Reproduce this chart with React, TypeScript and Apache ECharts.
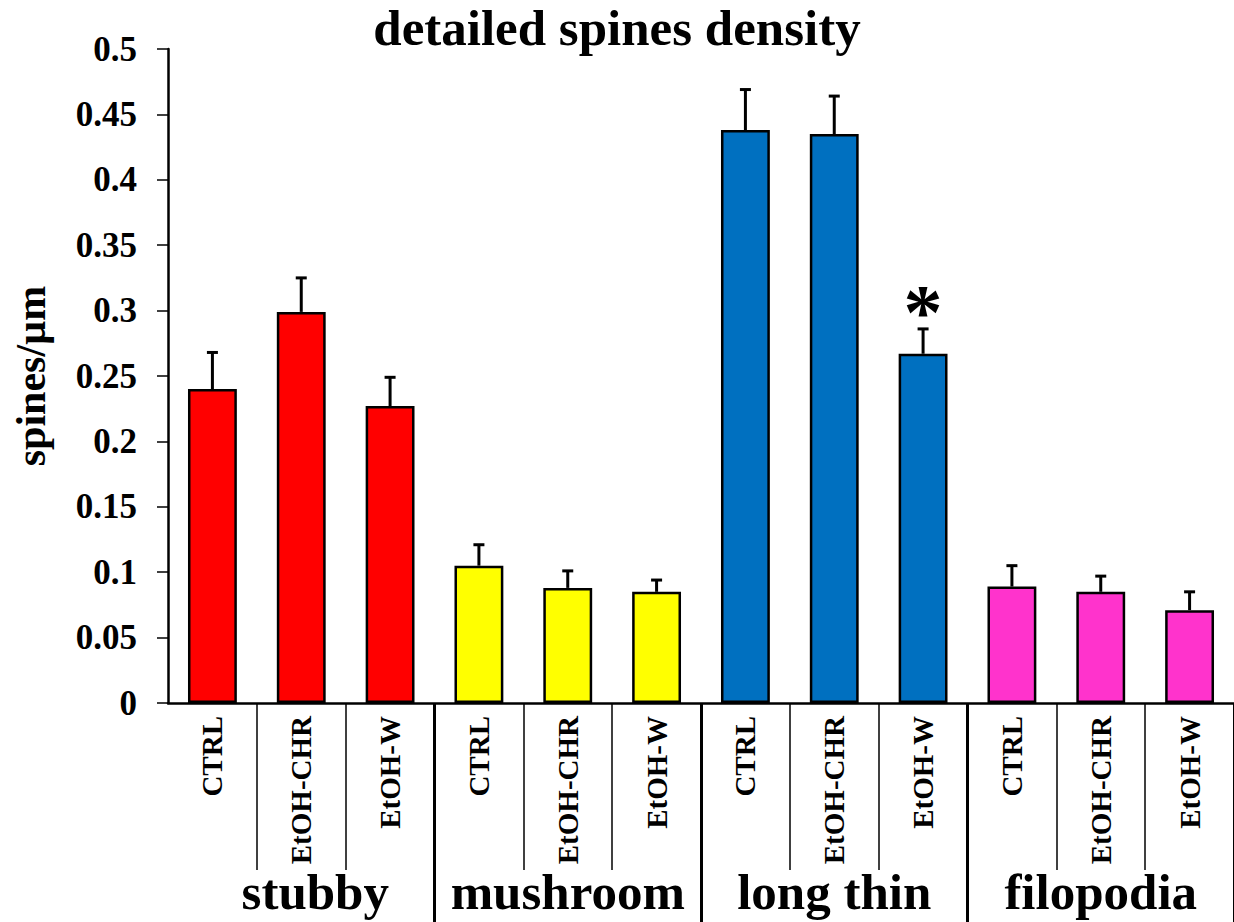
import React, { useEffect, useRef } from 'react';
import * as echarts from 'echarts';

// ---- data ----
const groups = ['stubby', 'mushroom', 'long thin', 'filopodia'];
const conditions = ['CTRL', 'EtOH-CHR', 'EtOH-W'];

const stubbyMean = [0.240, 0.299, 0.227];
const stubbySem = [0.028, 0.026, 0.022];
const mushroomMean = [0.105, 0.088, 0.085];
const mushroomSem = [0.016, 0.013, 0.009];
const longThinMean = [0.438, 0.435, 0.267];
const longThinSem = [0.031, 0.029, 0.019];
const filopodiaMean = [0.089, 0.085, 0.071];
const filopodiaSem = [0.016, 0.012, 0.014];

const stubbySig = ['', '', ''];
const mushroomSig = ['', '', ''];
const longThinSig = ['', '', '*'];
const filopodiaSig = ['', '', ''];

const groupColors = ['#FF0000', '#FFFF00', '#0070C0', '#FF33CC'];

const yMin = 0;
const yMax = 0.5;
const yStep = 0.05;

const FONT = "'Liberation Serif', 'Times New Roman', Times, serif";

const means = [stubbyMean, mushroomMean, longThinMean, filopodiaMean];
const sems = [stubbySem, mushroomSem, longThinSem, filopodiaSem];
const sigs = [stubbySig, mushroomSig, longThinSig, filopodiaSig];

const catKeys: string[] = [];
const barData: any[] = [];
const errData: number[][] = [];
const sigFlat: string[] = [];
groups.forEach((g, gi) => {
  conditions.forEach((c, ci) => {
    const idx = catKeys.length;
    catKeys.push(g + '|' + c);
    barData.push({ value: means[gi][ci], itemStyle: { color: groupColors[gi] } });
    errData.push([idx, means[gi][ci], sems[gi][ci]]);
    sigFlat.push(sigs[gi][ci]);
  });
});

export default function App() {
  const ref = useRef<HTMLDivElement>(null);

  useEffect(() => {
    document.body.style.margin = '0';
    if (!ref.current) return;
    const chart = echarts.init(ref.current, undefined, { renderer: 'svg' });
    const option: any = {
      animation: false,
      backgroundColor: '#ffffff',
      title: {
        text: 'detailed spines density',
        left: 'center',
        top: -3,
        textStyle: { fontFamily: FONT, fontWeight: 'bold', fontSize: 51, color: '#000' },
      },
      grid: { left: 168, right: -2, top: 49, bottom: 219, containLabel: false },
      xAxis: [
        {
          type: 'category',
          data: catKeys,
          position: 'bottom',
          axisLine: { show: true, lineStyle: { color: '#000', width: 2.5 } },
          axisTick: {
            show: true,
            length: 167,
            interval: (i: number) => i % 3 !== 0,
            lineStyle: { color: '#000', width: 1.5 },
          },
          axisLabel: {
            interval: 0,
            rotate: 90,
            margin: 13,
            formatter: (v: string) => v.split('|')[1],
            fontFamily: FONT,
            fontWeight: 'bold',
            fontSize: 29,
            color: '#000',
          },
        },
        {
          type: 'category',
          data: groups,
          position: 'bottom',
          gridIndex: 0,
          axisLine: { show: false },
          axisTick: {
            show: true,
            length: 219,
            interval: (i: number) => i !== 0,
            lineStyle: { color: '#000', width: 3 },
          },
          axisLabel: {
            interval: 0,
            margin: 163,
            fontFamily: FONT,
            fontWeight: 'bold',
            fontSize: 51,
            color: '#000',
            formatter: (v: string, i: number) => (i === 0 ? '{s|' + v + '}' : v),
            rich: {
              s: {
                fontFamily: FONT,
                fontWeight: 'bold',
                fontSize: 51,
                color: '#000',
                padding: [0, 0, 0, 28],
              },
            },
          },
        },
      ],
      yAxis: {
        type: 'value',
        min: yMin,
        max: yMax,
        interval: yStep,
        name: 'spines/µm',
        nameLocation: 'middle',
        nameGap: 116,
        nameTextStyle: { fontFamily: FONT, fontWeight: 'bold', fontSize: 42, color: '#000' },
        axisLine: { show: true, lineStyle: { color: '#000', width: 2.5 } },
        axisTick: { show: true, length: 11, lineStyle: { color: '#000', width: 1.5 } },
        splitLine: { show: false },
        axisLabel: {
          margin: 31,
          fontFamily: FONT,
          fontWeight: 'bold',
          fontSize: 35,
          color: '#000',
        },
      },
      series: [
        {
          type: 'bar',
          xAxisIndex: 0,
          yAxisIndex: 0,
          data: barData,
          barWidth: '55%',
          itemStyle: { borderColor: '#000', borderWidth: 2.5 },
        },
        {
          type: 'custom',
          xAxisIndex: 0,
          yAxisIndex: 0,
          data: errData,
          encode: { x: 0, y: 1 },
          z: 3,
          renderItem: (params: any, api: any) => {
            const x = api.value(0);
            const m = api.value(1);
            const e = api.value(2);
            const base = api.coord([x, m]);
            const top = api.coord([x, m + e]);
            const half = 5.5;
            const children: any[] = [
              {
                type: 'line',
                shape: { x1: base[0], y1: base[1], x2: top[0], y2: top[1] },
                style: { stroke: '#000', lineWidth: 3 },
              },
              {
                type: 'line',
                shape: { x1: top[0] - half, y1: top[1], x2: top[0] + half, y2: top[1] },
                style: { stroke: '#000', lineWidth: 3 },
              },
            ];
            const sig = sigFlat[params.dataIndex];
            if (sig) {
              children.push({
                type: 'text',
                x: top[0],
                y: top[1] - 17,
                style: {
                  text: sig,
                  fontFamily: FONT,
                  fontWeight: 'bold',
                  fontSize: 78,
                  fill: '#000',
                  align: 'center',
                  verticalAlign: 'middle',
                },
              });
            }
            return { type: 'group', children };
          },
        },
      ],
    };
    chart.setOption(option);
    return () => chart.dispose();
  }, []);

  return <div ref={ref} style={{ width: 1234, height: 922 }} />;
}
